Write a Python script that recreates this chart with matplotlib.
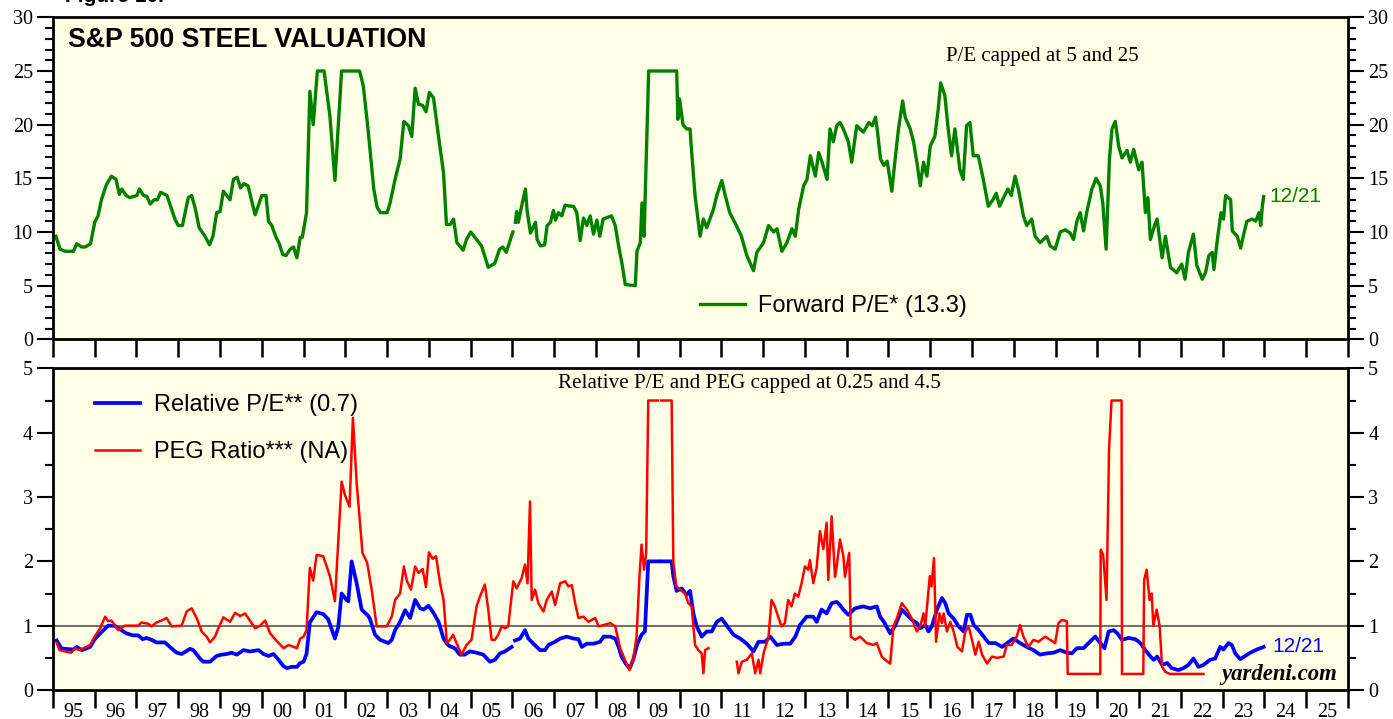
import numpy as np
import matplotlib
matplotlib.use("Agg")
import matplotlib.pyplot as plt
from matplotlib.ticker import MultipleLocator, FixedLocator, NullFormatter
from matplotlib.lines import Line2D

nan = np.nan

# ---- Forward P/E (decimal year, value) ----
fpe_x = [1995.07, 1995.17, 1995.29, 1995.49, 1995.57, 1995.69, 1995.77, 1995.90, 1996.00, 1996.08,
         1996.16, 1996.28, 1996.40, 1996.51, 1996.59, 1996.65, 1996.75, 1996.84, 1997.01, 1997.07,
         1997.17, 1997.25, 1997.33, 1997.42, 1997.50, 1997.58, 1997.73, 1997.92, 1998.00, 1998.10,
         1998.24, 1998.32, 1998.40, 1998.50, 1998.64, 1998.75, 1998.83, 1998.92, 1999.00, 1999.08,
         1999.24, 1999.32, 1999.41, 1999.49, 1999.57, 1999.67, 1999.84, 2000.00, 2000.10, 2000.16,
         2000.24, 2000.34, 2000.42, 2000.50, 2000.58, 2000.68, 2000.76, 2000.84, 2000.92, 2000.97,
         2001.07, 2001.15, 2001.23, 2001.33, 2001.49, 2001.63, 2001.75, 2001.91, 2002.34, 2002.43,
         2002.55, 2002.68, 2002.76, 2002.84, 2003.00, 2003.07, 2003.19, 2003.31, 2003.40, 2003.51,
         2003.59, 2003.67, 2003.75, 2003.85, 2003.93, 2004.01, 2004.11, 2004.23, 2004.35, 2004.42,
         2004.51, 2004.59, 2004.67, 2004.82, 2004.90, 2005.00, 2005.10, 2005.26, 2005.42, 2005.58,
         2005.69, 2005.77, 2005.85, 2006.01, 2006.04, 2006.07, 2006.10, 2006.14, 2006.23, 2006.31,
         2006.35, 2006.43, 2006.55, 2006.59, 2006.67, 2006.77, 2006.83, 2006.91, 2006.98, 2007.03,
         2007.10, 2007.18, 2007.26, 2007.38, 2007.46, 2007.54, 2007.62, 2007.70, 2007.78, 2007.86,
         2007.94, 2008.02, 2008.09, 2008.17, 2008.37, 2008.46, 2008.54, 2008.62, 2008.70, 2008.94,
         2008.98, 2009.06, 2009.10, 2009.15, 2009.22, 2009.26, 2009.50, 2009.54, 2009.58, 2009.93,
         2009.96, 2010.00, 2010.08, 2010.17, 2010.25, 2010.29, 2010.37, 2010.49, 2010.57, 2010.65,
         2010.81, 2010.89, 2011.01, 2011.08, 2011.20, 2011.36, 2011.48, 2011.61, 2011.77, 2011.85,
         2012.01, 2012.13, 2012.25, 2012.33, 2012.45, 2012.57, 2012.69, 2012.77, 2012.85, 2012.97,
         2013.05, 2013.13, 2013.25, 2013.33, 2013.41, 2013.53, 2013.60, 2013.68, 2013.76, 2013.84,
         2013.92, 2014.04, 2014.12, 2014.24, 2014.40, 2014.53, 2014.61, 2014.69, 2014.73, 2014.81,
         2014.89, 2014.97, 2015.08, 2015.16, 2015.24, 2015.34, 2015.40, 2015.52, 2015.60, 2015.68,
         2015.76, 2015.84, 2015.92, 2016.00, 2016.11, 2016.19, 2016.25, 2016.35, 2016.43, 2016.51,
         2016.59, 2016.71, 2016.79, 2016.87, 2016.95, 2017.03, 2017.15, 2017.27, 2017.39, 2017.50,
         2017.58, 2017.66, 2017.78, 2017.86, 2017.94, 2018.03, 2018.11, 2018.23, 2018.31, 2018.43,
         2018.51, 2018.63, 2018.79, 2018.87, 2018.99, 2019.11, 2019.23, 2019.35, 2019.43, 2019.51,
         2019.59, 2019.67, 2019.75, 2019.87, 2019.97, 2020.07, 2020.13, 2020.21, 2020.29, 2020.35,
         2020.43, 2020.51, 2020.59, 2020.71, 2020.79, 2020.87, 2020.99, 2021.07, 2021.15, 2021.21,
         2021.27, 2021.37, 2021.43, 2021.55, 2021.63, 2021.75, 2021.90, 2022.02, 2022.10, 2022.18,
         2022.30, 2022.38, 2022.51, 2022.59, 2022.67, 2022.75, 2022.79, 2022.87, 2022.96, 2023.02,
         2023.07, 2023.19, 2023.23, 2023.35, 2023.43, 2023.51, 2023.58, 2023.71, 2023.79, 2023.87,
         2023.91, 2023.95, 2023.98]
fpe_y = [9.6, 8.4, 8.2, 8.2, 8.9, 8.6, 8.6, 8.9, 10.9, 11.5,
         13.0, 14.4, 15.2, 14.9, 13.5, 14.0, 13.4, 13.2, 13.4, 14.0,
         13.4, 13.3, 12.6, 13.0, 13.0, 13.7, 13.4, 11.2, 10.6, 10.6,
         13.2, 13.4, 12.3, 10.4, 9.6, 8.8, 9.6, 11.8, 11.9, 13.8,
         13.0, 14.9, 15.1, 14.1, 14.5, 14.3, 11.6, 13.4, 13.4, 11.0,
         10.6, 9.5, 8.9, 7.9, 7.8, 8.4, 8.6, 7.6, 9.5, 9.5,
         11.8, 23.1, 20.0, 25.0, 25.0, 20.8, 14.8, 25.0, 25.0, 23.6,
         19.3, 14.0, 12.3, 11.8, 11.8, 12.7, 14.9, 16.8, 20.3, 19.9,
         18.9, 23.4, 21.9, 21.8, 21.2, 23.0, 22.5, 18.9, 15.5, 10.7,
         10.7, 11.2, 9.0, 8.3, 9.3, 10.0, 9.5, 8.7, 6.7, 7.1,
         8.4, 8.6, 8.1, 10.0, nan, 10.9, 11.9, 10.9, 12.6, 14.0,
         12.0, 9.9, 10.9, 9.3, 8.7, 8.8, 10.6, 10.9, 12.0, 11.1,
         11.8, 11.5, 12.5, 12.4, 12.4, 11.8, 9.2, 11.3, 10.6, 11.5,
         9.8, 11.1, 9.6, 11.2, 11.5, 10.6, 8.7, 7.1, 5.1, 5.0,
         8.2, 9.0, 12.7, 9.6, 19.6, 25.0, 25.0, nan, 25.0, 25.0,
         20.5, 22.4, 20.0, 19.6, 19.6, 17.4, 13.4, 9.6, 11.2, 10.4,
         12.1, 13.4, 14.8, 13.6, 11.8, 10.6, 9.6, 7.8, 6.4, 8.1,
         9.0, 10.6, 10.0, 10.3, 8.2, 9.0, 10.3, 9.6, 12.1, 14.3,
         14.9, 17.1, 15.2, 17.4, 16.5, 14.9, 19.6, 18.4, 19.9, 20.2,
         19.6, 18.4, 16.5, 19.9, 19.3, 20.2, 19.9, 20.7, 19.6, 16.8,
         16.2, 16.6, 13.8, 16.8, 19.6, 22.2, 20.7, 19.6, 18.4, 16.5,
         14.3, 16.5, 15.2, 18.0, 18.9, 21.4, 23.9, 22.7, 19.6, 17.1,
         19.6, 15.8, 14.9, 19.9, 20.2, 17.1, 17.1, 14.9, 12.4, 13.0,
         13.6, 12.4, 13.4, 14.0, 13.4, 15.2, 14.0, 11.5, 10.6, 11.2,
         9.6, 9.0, 9.6, 8.7, 8.4, 10.0, 10.2, 9.9, 9.3, 11.0,
         11.8, 10.1, 11.9, 14.0, 15.0, 14.3, 12.7, 8.4, 16.8, 19.6,
         20.3, 18.0, 16.9, 17.6, 16.5, 17.7, 15.8, 16.5, 11.8, 13.2,
         9.3, 10.6, 11.2, 7.6, 9.6, 6.7, 6.2, 7.0, 5.6, 8.1,
         9.8, 6.9, 5.6, 6.2, 7.8, 8.1, 6.5, 9.2, 11.8, 11.2,
         13.4, 13.0, 10.1, 9.6, 8.5, 9.9, 11.0, 11.2, 11.0, 11.8,
         10.6, 12.4, 13.3]

# ---- Relative P/E ----
rpe_x = [1995.09, 1995.20, 1995.28, 1995.49, 1995.57, 1995.69, 1995.89, 1996.00, 1996.13, 1996.32,
         1996.48, 1996.64, 1996.76, 1996.92, 1997.04, 1997.15, 1997.24, 1997.36, 1997.48, 1997.68,
         1997.80, 1997.96, 1998.08, 1998.28, 1998.36, 1998.52, 1998.60, 1998.76, 1998.92, 1999.04,
         1999.16, 1999.28, 1999.40, 1999.56, 1999.72, 1999.92, 2000.04, 2000.16, 2000.28, 2000.40,
         2000.52, 2000.60, 2000.72, 2000.84, 2000.92, 2001.00, 2001.07, 2001.15, 2001.31, 2001.47,
         2001.59, 2001.75, 2001.83, 2001.91, 2002.03, 2002.07, 2002.15, 2002.27, 2002.39, 2002.55,
         2002.59, 2002.71, 2002.83, 2003.03, 2003.11, 2003.19, 2003.31, 2003.43, 2003.55, 2003.67,
         2003.79, 2003.87, 2003.99, 2004.11, 2004.23, 2004.35, 2004.43, 2004.50, 2004.62, 2004.74,
         2004.86, 2004.98, 2005.14, 2005.30, 2005.46, 2005.58, 2005.70, 2005.82, 2005.98, 2006.02,
         2006.06, 2006.18, 2006.30, 2006.38, 2006.50, 2006.66, 2006.78, 2006.86, 2007.02, 2007.14,
         2007.30, 2007.46, 2007.58, 2007.66, 2007.78, 2007.94, 2008.10, 2008.18, 2008.34, 2008.46,
         2008.54, 2008.61, 2008.73, 2008.81, 2008.89, 2008.99, 2009.09, 2009.17, 2009.25, 2009.48,
         2009.52, 2009.56, 2009.81, 2009.85, 2009.93, 2010.05, 2010.17, 2010.25, 2010.33, 2010.41,
         2010.53, 2010.65, 2010.77, 2010.89, 2011.01, 2011.13, 2011.29, 2011.45, 2011.61, 2011.77,
         2011.89, 2012.05, 2012.17, 2012.33, 2012.49, 2012.65, 2012.77, 2012.88, 2013.04, 2013.20,
         2013.28, 2013.40, 2013.52, 2013.64, 2013.76, 2013.84, 2013.92, 2014.04, 2014.20, 2014.40,
         2014.56, 2014.72, 2014.80, 2014.90, 2015.04, 2015.16, 2015.32, 2015.44, 2015.56, 2015.68,
         2015.76, 2015.88, 2015.96, 2016.04, 2016.16, 2016.28, 2016.36, 2016.44, 2016.56, 2016.68,
         2016.80, 2016.88, 2016.96, 2017.04, 2017.16, 2017.28, 2017.40, 2017.56, 2017.72, 2017.84,
         2017.99, 2018.15, 2018.31, 2018.47, 2018.63, 2018.79, 2018.95, 2019.11, 2019.27, 2019.39,
         2019.51, 2019.67, 2019.79, 2019.95, 2020.07, 2020.17, 2020.27, 2020.39, 2020.48, 2020.59,
         2020.75, 2020.91, 2021.03, 2021.15, 2021.27, 2021.35, 2021.43, 2021.55, 2021.67, 2021.78,
         2021.94, 2022.06, 2022.18, 2022.30, 2022.42, 2022.54, 2022.70, 2022.82, 2022.94, 2023.02,
         2023.14, 2023.22, 2023.30, 2023.42, 2023.54, 2023.66, 2023.82, 2023.98]
rpe_y = [0.77, 0.65, 0.64, 0.63, 0.67, 0.62, 0.67, 0.79, 0.88, 1.00,
         1.00, 0.93, 0.88, 0.85, 0.85, 0.79, 0.81, 0.78, 0.74, 0.74,
         0.67, 0.58, 0.56, 0.64, 0.62, 0.49, 0.44, 0.44, 0.53, 0.55,
         0.56, 0.58, 0.55, 0.62, 0.60, 0.62, 0.56, 0.53, 0.56, 0.47,
         0.37, 0.34, 0.36, 0.36, 0.42, 0.44, 0.56, 1.05, 1.21, 1.18,
         1.10, 0.80, 0.98, 1.50, 1.40, 1.38, 2.00, 1.66, 1.25, 1.15,
         1.10, 0.86, 0.78, 0.73, 0.78, 0.93, 1.06, 1.24, 1.12, 1.40,
         1.27, 1.25, 1.31, 1.20, 1.06, 0.80, 0.72, 0.68, 0.65, 0.55,
         0.55, 0.60, 0.58, 0.55, 0.44, 0.47, 0.57, 0.60, 0.67, nan,
         0.77, 0.80, 0.93, 0.80, 0.72, 0.62, 0.62, 0.70, 0.75, 0.80,
         0.83, 0.80, 0.79, 0.67, 0.72, 0.72, 0.75, 0.83, 0.83, 0.80,
         0.67, 0.52, 0.39, 0.34, 0.47, 0.72, 0.86, 0.91, 2.00, 2.00,
         nan, 2.00, 2.00, 1.77, 1.54, 1.58, 1.48, 1.54, 1.19, 0.99,
         0.83, 0.91, 0.91, 1.06, 1.11, 1.00, 0.86, 0.80, 0.72, 0.60,
         0.75, 0.75, 0.83, 0.70, 0.72, 0.72, 0.83, 1.01, 1.14, 1.14,
         1.06, 1.25, 1.19, 1.35, 1.37, 1.32, 1.25, 1.17, 1.27, 1.30,
         1.27, 1.30, 1.14, 1.05, 0.88, 1.00, 1.25, 1.17, 1.09, 1.04,
         0.96, 1.01, 0.91, 0.99, 1.25, 1.43, 1.35, 1.19, 1.11, 0.99,
         0.91, 1.17, 1.17, 1.01, 0.93, 0.83, 0.73, 0.73, 0.67, 0.73,
         0.80, 0.73, 0.67, 0.62, 0.55, 0.57, 0.58, 0.62, 0.58, 0.57,
         0.65, 0.65, 0.73, 0.83, 0.73, 0.65, 0.91, 0.93, 0.88, 0.78,
         0.81, 0.79, 0.73, 0.62, 0.52, 0.47, 0.52, 0.39, 0.42, 0.34,
         0.31, 0.34, 0.39, 0.49, 0.36, 0.39, 0.47, 0.49, 0.67, 0.63,
         0.73, 0.70, 0.57, 0.48, 0.53, 0.58, 0.63, 0.67]

# ---- PEG ratio ----
peg_x = [1995.09, 1995.16, 1995.28, 1995.44, 1995.52, 1995.64, 1995.89, 1996.00, 1996.13, 1996.25,
         1996.32, 1996.40, 1996.48, 1996.56, 1996.72, 1997.04, 1997.12, 1997.28, 1997.36, 1997.48,
         1997.60, 1997.72, 1997.84, 1998.08, 1998.20, 1998.32, 1998.44, 1998.56, 1998.68, 1998.76,
         1998.88, 1998.96, 1999.08, 1999.24, 1999.36, 1999.48, 1999.60, 1999.84, 1999.96, 2000.08,
         2000.20, 2000.36, 2000.52, 2000.64, 2000.76, 2000.84, 2000.92, 2001.00, 2001.07, 2001.15,
         2001.23, 2001.31, 2001.47, 2001.63, 2001.75, 2001.91, 2001.99, 2002.10, 2002.18, 2002.27,
         2002.41, 2002.52, 2002.63, 2002.75, 2002.99, 2003.11, 2003.19, 2003.31, 2003.40, 2003.47,
         2003.57, 2003.67, 2003.75, 2003.85, 2003.93, 2004.00, 2004.09, 2004.17, 2004.27, 2004.35,
         2004.43, 2004.50, 2004.58, 2004.66, 2004.78, 2004.90, 2005.02, 2005.14, 2005.22, 2005.34,
         2005.42, 2005.50, 2005.58, 2005.66, 2005.74, 2005.82, 2005.90, 2005.96, 2006.02, 2006.10,
         2006.22, 2006.30, 2006.36, 2006.42, 2006.46, 2006.54, 2006.62, 2006.74, 2006.82, 2006.94,
         2007.02, 2007.14, 2007.26, 2007.34, 2007.42, 2007.50, 2007.58, 2007.70, 2007.82, 2007.98,
         2008.06, 2008.18, 2008.34, 2008.46, 2008.57, 2008.69, 2008.80, 2008.89, 2008.97, 2009.04,
         2009.09, 2009.15, 2009.20, 2009.25, 2009.48, 2009.52, 2009.56, 2009.81, 2009.85, 2009.92,
         2010.01, 2010.13, 2010.21, 2010.29, 2010.37, 2010.45, 2010.53, 2010.57, 2010.61, 2010.69,
         2011.00, 2011.37, 2011.41, 2011.49, 2011.61, 2011.73, 2011.81, 2011.89, 2011.93, 2012.01,
         2012.13, 2012.20, 2012.28, 2012.36, 2012.44, 2012.52, 2012.60, 2012.68, 2012.76, 2012.84,
         2012.92, 2013.00, 2013.08, 2013.12, 2013.20, 2013.28, 2013.36, 2013.44, 2013.52, 2013.56,
         2013.64, 2013.72, 2013.76, 2013.84, 2013.92, 2013.96, 2014.06, 2014.10, 2014.20, 2014.32,
         2014.48, 2014.64, 2014.72, 2014.84, 2014.92, 2015.04, 2015.12, 2015.20, 2015.32, 2015.44,
         2015.56, 2015.68, 2015.76, 2015.84, 2015.88, 2015.99, 2016.03, 2016.09, 2016.14, 2016.22,
         2016.28, 2016.32, 2016.40, 2016.48, 2016.56, 2016.65, 2016.76, 2016.84, 2016.92, 2017.00,
         2017.08, 2017.16, 2017.24, 2017.36, 2017.48, 2017.60, 2017.76, 2017.83, 2017.95, 2018.07,
         2018.15, 2018.23, 2018.35, 2018.47, 2018.59, 2018.75, 2018.87, 2018.99, 2019.07, 2019.15,
         2019.27, 2019.29, 2020.07, 2020.08, 2020.14, 2020.22, 2020.28, 2020.34, 2020.58, 2020.59,
         2021.10, 2021.12, 2021.18, 2021.25, 2021.30, 2021.34, 2021.42, 2021.49, 2021.55, 2021.63,
         2021.74, 2022.54]
peg_y = [0.73, 0.62, 0.60, 0.58, 0.65, 0.62, 0.70, 0.83, 0.96, 1.14,
         1.07, 1.08, 1.01, 0.93, 1.00, 1.00, 1.05, 1.03, 0.99, 1.05,
         1.08, 1.12, 0.99, 1.00, 1.22, 1.27, 1.12, 0.91, 0.83, 0.74,
         0.83, 0.96, 1.13, 1.06, 1.20, 1.15, 1.19, 0.96, 1.00, 1.08,
         0.88, 0.76, 0.65, 0.70, 0.67, 0.65, 0.80, 0.83, 0.93, 1.90,
         1.70, 2.10, 2.08, 1.77, 1.38, 3.24, 3.03, 2.85, 4.23, 3.22,
         2.13, 1.98, 1.56, 0.99, 0.99, 1.14, 1.40, 1.50, 1.92, 1.70,
         1.56, 1.92, 1.82, 1.88, 1.60, 2.14, 2.04, 2.08, 1.65, 1.40,
         0.73, 0.78, 0.86, 0.73, 0.55, 0.70, 0.78, 1.30, 1.45, 1.64,
         1.25, 0.78, 0.78, 0.86, 0.99, 0.96, 0.99, 1.35, 1.69, 1.58,
         1.74, 1.95, 1.66, 2.93, 1.40, 1.56, 1.35, 1.22, 1.40, 1.53,
         1.32, 1.66, 1.69, 1.61, 1.63, 1.35, 1.12, 1.14, 1.06, 1.12,
         0.99, 1.01, 1.04, 0.99, 0.67, 0.47, 0.31, 0.47, 0.83, 1.77,
         2.26, 1.87, 2.13, 4.50, 4.50, nan, 4.50, 4.50, 2.00, 1.61,
         1.56, 1.50, 1.35, 1.30, 0.70, 0.62, 0.57, 0.26, 0.62, 0.65,
         nan, 0.44, 0.26, 0.44, 0.47, 0.57, 0.26, 0.47, 0.26, 0.57,
         0.83, 1.40, 1.30, 1.14, 0.99, 1.04, 1.40, 1.30, 1.50, 1.45,
         1.66, 1.92, 1.87, 2.02, 1.66, 1.90, 2.47, 2.19, 2.60, 1.71,
         2.70, 1.76, 1.92, 2.34, 2.08, 1.76, 2.13, 0.83, 0.78, 0.83,
         0.73, 0.70, 0.73, 0.52, 0.47, 0.41, 0.99, 1.11, 1.35, 1.25,
         1.11, 0.91, 0.99, 1.19, 0.99, 1.77, 1.61, 2.05, 0.75, 1.19,
         1.04, 1.19, 0.91, 1.06, 0.91, 0.67, 0.60, 0.91, 0.99, 0.78,
         0.55, 0.75, 0.55, 0.41, 0.52, 0.50, 0.52, 0.70, 0.70, 0.83,
         1.01, 0.83, 0.67, 0.78, 0.75, 0.83, 0.78, 0.73, 1.04, 1.09,
         1.07, 0.25, 0.25, 2.18, 2.10, 1.40, 3.74, 4.50, 4.50, 0.25,
         0.25, 1.71, 1.87, 1.40, 1.50, 1.00, 1.25, 1.00, 0.36, 0.28,
         0.25, 0.25]

year_ticks = list(range(1995, 2027))
year_labels = [f"{y % 100:02d}" for y in range(1995, 2026)]

SERIF = "Liberation Serif"
SANS = "Liberation Sans"
BG = "#ffffe6"
GREEN = "#008000"
BLUE = "#0000ff"
RED = "#ff0000"

fig = plt.figure(figsize=(13.93, 7.19), dpi=100)
ax1 = fig.add_axes([0.0380, 0.5281, 0.9297, 0.4478])
ax2 = fig.add_axes([0.0380, 0.0403, 0.9297, 0.4474])


def style_axis(ax, ymax, major, minor):
    ax.set_facecolor(BG)
    ax.set_xlim(1995, 2026)
    ax.set_ylim(0, ymax)
    for s in ax.spines.values():
        s.set_linewidth(2.0)
    ax.yaxis.set_major_locator(MultipleLocator(major))
    ax.yaxis.set_minor_locator(MultipleLocator(minor))
    ax.tick_params(axis="y", which="both", left=True, right=True, labelleft=True,
                   labelright=True, direction="out", width=1.5, labelsize=14.5, pad=3)
    ax.tick_params(axis="y", which="major", length=11.5)
    ax.tick_params(axis="y", which="minor", length=5.5)
    ax.xaxis.set_major_locator(FixedLocator(year_ticks))
    ax.tick_params(axis="x", which="major", direction="out", length=13, width=1.8,
                   top=False, bottom=True)
    for lab in ax.get_yticklabels():
        lab.set_fontfamily(SERIF)


style_axis(ax1, 30, 5, 1)
style_axis(ax2, 5, 1, 0.5)

ax1.xaxis.set_major_formatter(NullFormatter())
ax2.xaxis.set_major_formatter(NullFormatter())
ax2.xaxis.set_minor_locator(FixedLocator([y + 0.5 for y in range(1995, 2026)]))
ax2.set_xticklabels(year_labels, minor=True, fontfamily=SERIF, fontsize=14.5)
ax2.tick_params(axis="x", which="minor", length=0, pad=9)

# top panel
ax1.plot(fpe_x, fpe_y, color=GREEN, lw=2.4, solid_joinstyle="round")
ax1.text(0.0116, 0.929, "S&P 500 STEEL VALUATION", transform=ax1.transAxes,
         fontfamily=SANS, fontweight="bold", fontsize=19.3, va="center", ha="left")
ax1.text(0.764, 0.877, "P/E capped at 5 and 25", transform=ax1.transAxes,
         fontfamily=SERIF, fontsize=15, va="center", ha="center")
ax1.annotate("12/21", xy=(fpe_x[-1], fpe_y[-1]), xytext=(4, 0), textcoords="offset points",
             color=GREEN, fontfamily=SANS, fontsize=15, va="center", ha="left")
ax1.legend(handles=[Line2D([], [], color=GREEN, lw=2.4)],
           labels=["Forward P/E* (13.3)"], loc="center left",
           bbox_to_anchor=(0.4996, 0.103), frameon=False, borderpad=0,
           borderaxespad=0, handlelength=1.9, handletextpad=0.55,
           prop={"family": SANS, "size": 17})

# bottom panel
ax2.axhline(1, color="#707070", lw=1.5, zorder=1)
ax2.plot(rpe_x, rpe_y, color=BLUE, lw=2.7, zorder=2)
ax2.plot(peg_x, peg_y, color=RED, lw=1.8, zorder=3)
ax2.text(0.538, 0.954, "Relative P/E and PEG capped at 0.25 and 4.5", transform=ax2.transAxes,
         fontfamily=SERIF, fontsize=15.2, va="center", ha="center")
ax2.annotate("12/21", xy=(rpe_x[-1], rpe_y[-1]), xytext=(6, 0), textcoords="offset points",
             color=BLUE, fontfamily=SANS, fontsize=15, va="center", ha="left")
ax2.text(0.992, 0.047, "yardeni.com", transform=ax2.transAxes, fontfamily=SERIF,
         fontweight="bold", fontstyle="italic", fontsize=16.4, va="center", ha="right")
ax2.legend(handles=[Line2D([], [], color=BLUE, lw=2.7), Line2D([], [], color=RED, lw=1.8)],
           labels=["Relative P/E** (0.7)", "PEG Ratio*** (NA)"], loc="center left",
           bbox_to_anchor=(0.0324, 0.813), frameon=False, borderpad=0,
           borderaxespad=0, handlelength=1.9, handletextpad=0.62, labelspacing=1.07,
           prop={"family": SANS, "size": 17})

fig.text(0.047, 1 - 2 / 719, "Figure 10.", fontfamily=SANS, fontweight="bold", fontsize=15,
         va="baseline", ha="left")

fig.savefig("out.png", dpi=100)
